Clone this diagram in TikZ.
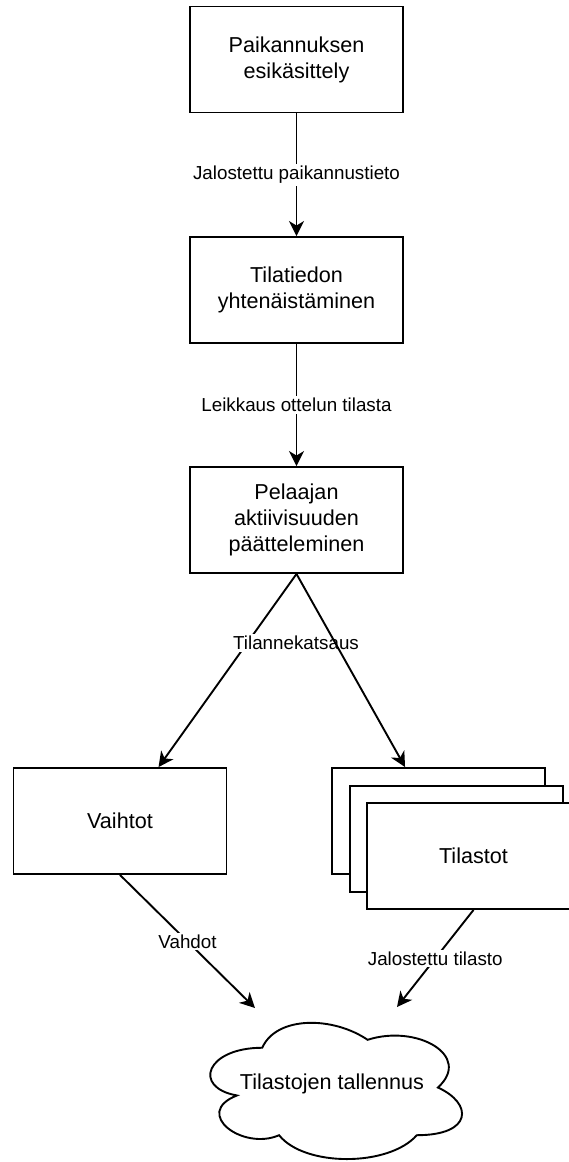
\documentclass[tikz,border=0pt]{standalone}
\usepackage{fontspec}
\setmainfont{Liberation Sans}
\usetikzlibrary{arrows.meta}

\begin{document}
\begin{tikzpicture}[x=1pt, y=-1pt, line width=1.9pt,
  procbox/.style={draw=black, fill=white, minimum width=213pt, minimum height=106pt,
    align=center, inner sep=0pt, font=\fontsize{21.6}{26}\selectfont},
  lbl/.style={fill=white, inner sep=2pt, font=\fontsize{18.8}{22}\selectfont},
  flow/.style={draw=black, -{Stealth[length=15pt, width=15pt, inset=4.5pt]}},
]
\useasboundingbox (0,0) rectangle (569,1162);
\clip (0,0) rectangle (569,1162);

% processing chain
\node[procbox] (p1) at (296.5,59.5) {Paikannuksen\\esikäsittely};
\node[procbox] (p2) at (296.5,290) {Tilatiedon\\yhtenäistäminen};
\node[procbox] (p3) at (296.5,520) {Pelaajan\\aktiivisuuden\\päätteleminen};

% outputs
\node[procbox] (vt) at (120,821) {Vaihtot};
\node[procbox] (sa) at (438.5,821) {};
\node[procbox] (sb) at (456.5,839) {};
\node[procbox] (sc) at (473.5,856) {Tilastot};

% storage cloud
\begin{scope}[shift={(192,1008)}, x=281pt, y=-159pt]
  \draw[fill=white] (0.25,0.25)
    .. controls (0.05,0.25) and (0,0.5) .. (0.16,0.55)
    .. controls (0,0.66) and (0.18,0.9) .. (0.31,0.8)
    .. controls (0.4,1) and (0.7,1) .. (0.8,0.8)
    .. controls (1,0.8) and (1,0.6) .. (0.875,0.5)
    .. controls (1,0.3) and (0.8,0.1) .. (0.625,0.2)
    .. controls (0.5,0.05) and (0.3,0.05) .. (0.25,0.25) -- cycle;
\end{scope}
\node[font=\fontsize{21.6}{26}\selectfont] (store) at (332,1084) {Tilastojen tallennus};

% connectors
\draw[flow] (p1) -- node[lbl] (l1) {Jalostettu paikannustieto} (p2);
\draw[flow] (p2) -- node[lbl] (l2) {Leikkaus ottelun tilasta} (p3);

\draw[flow] (p3.south) -- ([xshift=146pt]vt.north west);
\node[lbl] (l3) at (296,643) {Tilannekatsaus};
\draw[flow] (p3.south) -- ([xshift=74pt]sa.north west);

\coordinate (in1) at (255,1008);
\coordinate (in2) at (397,1007);
\draw[flow] (vt.south) -- node[lbl] (l4) {Vahdot} (in1);
\draw[flow] (sc.south) -- node[lbl] (l5) {Jalostettu tilasto} (in2);
\end{tikzpicture}
\end{document}
